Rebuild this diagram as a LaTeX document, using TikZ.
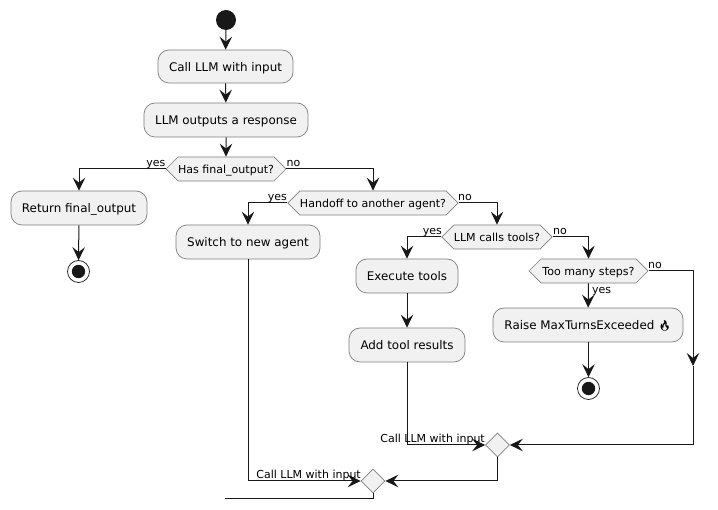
\documentclass[tikz,border=0pt]{standalone}
\usepackage{fontspec}
\setmainfont{DejaVu Sans}
\newfontfamily\emojifont{Noto Emoji}
\usetikzlibrary{shapes.geometric,shapes.symbols,arrows.meta}

\definecolor{boxfill}{HTML}{F1F1F1}
\definecolor{boxline}{HTML}{7F7F7F}
\definecolor{inkline}{HTML}{181818}

\tikzset{
	action/.style={draw=boxline, fill=boxfill, rounded corners=11pt, line width=0.7pt, inner sep=0pt, minimum height=34pt, text height=12pt, text depth=2.4pt, font=\fontsize{11.9}{14}\selectfont, text=black},
	test/.style={draw=boxline, fill=boxfill, signal, signal to=west and east, signal pointer angle=90, line width=0.7pt, inner sep=0pt, minimum height=24pt, text height=11.5pt, text depth=1.9pt, font=\fontsize{11.05}{14}\selectfont, text=black},
	merge/.style={draw=boxline, fill=boxfill, diamond, line width=0.7pt, inner sep=0pt, minimum width=24pt, minimum height=24pt},
	startdot/.style={circle, fill=inkline, inner sep=0pt, minimum size=20pt},
	stopdot/.style={circle, draw=inkline, fill=white, line width=0.7pt, inner sep=0pt, minimum size=22pt, path picture={\fill[inkline] (path picture bounding box.center) circle (6.7pt);}},
	flow/.style={draw=inkline, line width=1pt, -{Stealth[length=13pt,width=12.5pt,inset=5pt]}},
	plainflow/.style={draw=inkline, line width=1pt},
	tag/.style={inner sep=0pt, font=\fontsize{11}{14}\selectfont, text=black},
}

\begin{document}
\begin{tikzpicture}[x=1pt,y=-1pt]
	\useasboundingbox[fill=white] (0,0) rectangle (718,510);

	% left column
	\node[startdot] (start) at (226,20) {};
	\node[action, minimum width=135pt, minimum height=33pt] (call) at (225.5,66.5) {Call LLM with input};
	\node[action, minimum width=164pt] (resp) at (226,120) {LLM outputs a response};
	\node[test, minimum width=120pt] (final) at (226,169) {Has final\_output?};
	\node[action, minimum width=136pt] (ret) at (79,208) {Return final\_output};
	\node[stopdot] (stopa) at (78.5,271.5) {};

	% handoff
	\node[test, minimum width=168pt] (handoff) at (373,203) {Handoff to another agent?};
	\node[action, minimum width=144pt] (switch) at (248,242) {Switch to new agent};

	% tools
	\node[test, minimum width=110pt] (tools) at (497,237) {LLM calls tools?};
	\node[action, minimum width=102pt] (exec) at (407,276) {Execute tools};
	\node[action, minimum width=116pt] (add) at (407,345) {Add tool results};

	% too many steps
	\node[test, minimum width=119pt] (steps) at (588.5,271) {Too many steps?};
	\node[action, minimum width=190pt] (raise) at (588,325) {Raise MaxTurnsExceeded {\fontsize{10.5}{12}\selectfont\emojifont\symbol{"1F525}}};
	\node[stopdot] (stopb) at (588.5,388.5) {};

	% merge points
	\node[merge] (mergea) at (497.5,445) {};
	\node[merge] (mergeb) at (373,481) {};
	\coordinate (bend) at (693,366);
	\coordinate (exit) at (225,499);

	\draw[flow] (start) -- (call);
	\draw[flow] (call) -- (resp);
	\draw[flow] (resp) -- (final);
	\draw[flow] (final.west) -| (ret.north);
	\draw[flow] (ret) -- (stopa);
	\draw[flow] (final.east) -| (handoff.north);
	\draw[flow] (handoff.west) -| (switch.north);
	\draw[flow] (handoff.east) -| (tools.north);
	\draw[flow] (tools.west) -| (exec.north);
	\draw[flow] (tools.east) -| (steps.north);
	\draw[flow] (exec) -- (add);
	\draw[flow] (steps) -- (raise);
	\draw[flow] (raise.south -| stopb) -- (stopb);
	\draw[flow] (steps.east) -| (bend);
	\draw[flow] (bend) |- (mergea.east);
	\draw[flow] (add.south) |- (mergea.west);
	\draw[flow] (switch.south) |- (mergeb.west);
	\draw[flow] (mergea.south) |- (mergeb.east);
	\draw[plainflow] (mergeb.south) |- (exit);

	% branch labels
	\node[tag, anchor=base east] (yesa) at (165.5,166.5) {yes};
	\node[tag, anchor=base west] (noa) at (286.5,166.5) {no};
	\node[tag, anchor=base east] (yesb) at (287,201) {yes};
	\node[tag, anchor=base west] (nob) at (458,201) {no};
	\node[tag, anchor=base east] (yesc) at (442,235) {yes};
	\node[tag, anchor=base west] (noc) at (553,235) {no};
	\node[tag, anchor=base west] (nod) at (648,269) {no};
	\node[tag, anchor=base west] (yesd) at (592,294) {yes};
	\node[tag, anchor=base east] (againa) at (485,443) {Call LLM with input};
	\node[tag, anchor=base east] (againb) at (361,479) {Call LLM with input};
\end{tikzpicture}
\end{document}
